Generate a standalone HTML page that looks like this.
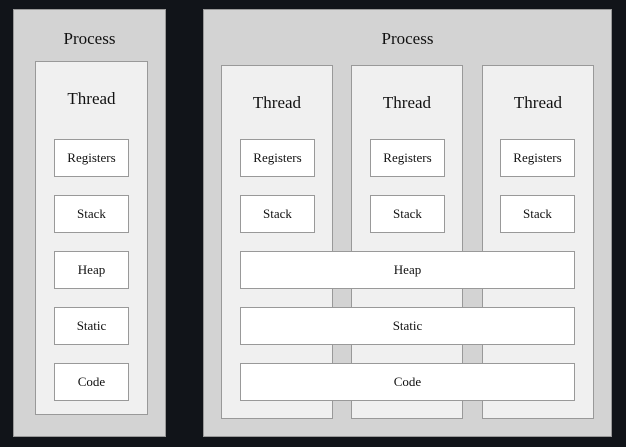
<!DOCTYPE html><html><head><style>
body{margin:0;width:626px;height:447px;background:#111419;position:relative;overflow:hidden;font-family:"Liberation Serif",serif;color:#111}
div{position:absolute;box-sizing:border-box}
.p{background:#d3d3d3;border:1px solid #999}
.t{background:#f0f0f0;border:1px solid #999}
.b{background:#fff;border:1px solid #999;font-size:13px;display:flex;align-items:center;justify-content:center}
.l{font-size:17px;text-align:center;width:100%;left:0}
</style></head><body>
<div class="p" style="left:13px;top:9px;width:153px;height:428px"><div class="l" style="top:19px">Process</div></div>
<div class="t" style="left:35px;top:61px;width:113px;height:354px"><div class="l" style="top:27px">Thread</div></div>
<div class="b" style="left:54px;top:139px;width:75px;height:38px">Registers</div>
<div class="b" style="left:54px;top:195px;width:75px;height:38px">Stack</div>
<div class="b" style="left:54px;top:251px;width:75px;height:38px">Heap</div>
<div class="b" style="left:54px;top:307px;width:75px;height:38px">Static</div>
<div class="b" style="left:54px;top:363px;width:75px;height:38px">Code</div>

<div class="p" style="left:203px;top:9px;width:409px;height:428px"><div class="l" style="top:19px">Process</div></div>
<div class="t" style="left:221px;top:65px;width:112px;height:354px"><div class="l" style="top:27px">Thread</div></div>
<div class="t" style="left:351px;top:65px;width:112px;height:354px"><div class="l" style="top:27px">Thread</div></div>
<div class="t" style="left:482px;top:65px;width:112px;height:354px"><div class="l" style="top:27px">Thread</div></div>
<div class="b" style="left:240px;top:139px;width:75px;height:38px">Registers</div>
<div class="b" style="left:370px;top:139px;width:75px;height:38px">Registers</div>
<div class="b" style="left:500px;top:139px;width:75px;height:38px">Registers</div>
<div class="b" style="left:240px;top:195px;width:75px;height:38px">Stack</div>
<div class="b" style="left:370px;top:195px;width:75px;height:38px">Stack</div>
<div class="b" style="left:500px;top:195px;width:75px;height:38px">Stack</div>
<div class="b" style="left:240px;top:251px;width:335px;height:38px">Heap</div>
<div class="b" style="left:240px;top:307px;width:335px;height:38px">Static</div>
<div class="b" style="left:240px;top:363px;width:335px;height:38px">Code</div>
</body></html>
